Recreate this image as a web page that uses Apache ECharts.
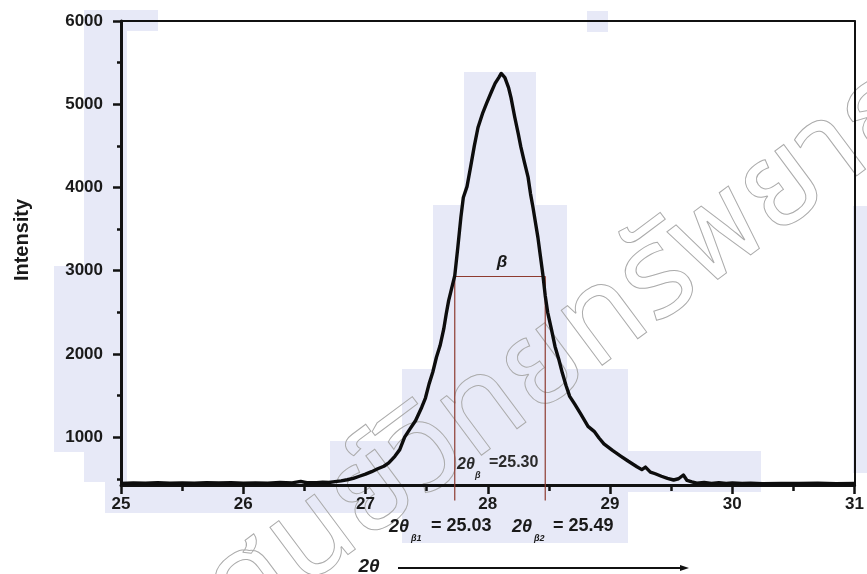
<!DOCTYPE html>
<html>
<head>
<meta charset="utf-8">
<title>XRD peak</title>
<script src="https://cdn.jsdelivr.net/npm/echarts@6.0.0/dist/echarts.min.js"></script>
<style>
  html, body { margin: 0; padding: 0; background: #fff; }
  #main { width: 867px; height: 574px; }
</style>
</head>
<body>
<div id="main"></div>
<script>
// 2θ (deg) / intensity
var twoTheta = [
  25.00, 25.10, 25.20, 25.30, 25.40, 25.50, 25.60, 25.70, 25.80, 25.90,
  26.00, 26.10, 26.20, 26.30, 26.40, 26.47, 26.52, 26.60, 26.65, 26.70,
  26.75, 26.80, 26.85, 26.90, 26.95, 27.00, 27.05, 27.10, 27.15, 27.19,
  27.24, 27.28, 27.32, 27.36, 27.41, 27.46, 27.49, 27.52, 27.55, 27.58,
  27.61, 27.64, 27.66, 27.68, 27.70, 27.73, 27.755, 27.78, 27.80, 27.83,
  27.86, 27.89, 27.92, 27.96, 27.99, 28.03, 28.06, 28.09, 28.11, 28.14,
  28.17, 28.19, 28.22, 28.25, 28.27, 28.30, 28.33, 28.35, 28.37, 28.39,
  28.41, 28.43, 28.45, 28.47, 28.49, 28.52, 28.55, 28.58, 28.61, 28.64,
  28.67, 28.71, 28.76, 28.82, 28.87, 28.91, 28.95, 29.02, 29.09, 29.15,
  29.22, 29.26, 29.29, 29.33, 29.37, 29.42, 29.47, 29.52, 29.56, 29.60,
  29.63, 29.67, 29.71, 29.77, 29.83, 29.89, 29.95, 30.00, 30.08, 30.15,
  30.25, 30.40, 30.55, 30.70, 30.85, 31.00
];
var intensity = [
  445, 449, 446, 452, 447, 450, 446, 454, 449, 452,
  448, 451, 447, 455, 450, 468, 452, 452, 458, 455,
  465, 475, 488, 505, 530, 555, 585, 620, 650, 690,
  770, 850, 1000, 1090, 1200, 1360, 1470, 1640, 1780, 1960,
  2100, 2300, 2480, 2640, 2760, 2940, 3280, 3640, 3880, 4010,
  4250, 4500, 4720, 4900, 5010, 5150, 5250, 5320, 5370, 5320,
  5200, 5080, 4850, 4640, 4490, 4300, 4120, 3920, 3760, 3580,
  3400, 3180, 2960, 2700, 2500, 2300, 2090, 1940, 1770, 1620,
  1490, 1400, 1280, 1130, 1070, 990, 920, 840, 770, 710,
  645, 610, 640, 580, 560, 530, 505, 485, 500, 545,
  480, 462, 446, 455, 444, 452, 443, 450, 444, 447,
  442, 445, 443, 446, 442, 444
];

// FWHM box (β) : left edge, right edge, half-height, bottom of the drop lines
var betaX = [27.73, 27.73, 28.47, 28.47];
var betaY = [240, 2930, 2930, 240];

// axis ticks
var yLabelValues = [1000, 2000, 3000, 4000, 5000, 6000];
var yMinorValues = [500, 1500, 2500, 3500, 4500, 5500];

var curveData = twoTheta.map(function (x, i) { return [x, intensity[i]]; });
var betaData = betaX.map(function (x, i) { return [x, betaY[i]]; });

var chart = echarts.init(document.getElementById("main"));
var boldFont = "Liberation Sans, Arial, sans-serif";
var hl = "#e7e9f7"; // scan highlight tint

function box(x, y, w, h) {
  return { type: "rect", z: -10, silent: true, shape: { x: x, y: y, width: w, height: h }, style: { fill: hl } };
}
function txt(x, y, s, size, opt) {
  opt = opt || {};
  return {
    type: "text", x: x, y: y, z: 50, rotation: opt.rot || 0, silent: true,
    style: {
      text: s, fill: opt.color || "#1a1a1a",
      font: (opt.italic ? "italic " : "") + "bold " + size + "px " + boldFont,
      align: opt.align || "left", verticalAlign: opt.va || "middle"
    }
  };
}

var option = {
  animation: false,
  backgroundColor: "#fff",
  grid: { left: 121, right: 11, top: 21, bottom: 89, containLabel: false },
  xAxis: [
    {
      type: "value", min: 25, max: 31, interval: 1, position: "bottom",
      axisLine: { show: true, lineStyle: { color: "#111", width: 3 } },
      axisTick: { show: true, length: 9, lineStyle: { color: "#111", width: 2.5 } },
      axisLabel: {
        margin: 11, color: "#1a1a1a", fontSize: 17, fontWeight: "bold", fontFamily: boldFont,
        formatter: function (v) { return String(v); }
      },
      splitLine: { show: false }
    },
    {
      type: "value", min: 25, max: 31, interval: 0.5, position: "bottom",
      axisLine: { show: false },
      axisTick: { show: true, length: 6, lineStyle: { color: "#111", width: 2.5 } },
      axisLabel: { show: false },
      splitLine: { show: false }
    },
    {
      type: "value", min: 25, max: 31, position: "top",
      axisLine: { show: true, lineStyle: { color: "#111", width: 2 } },
      axisTick: { show: false }, axisLabel: { show: false }, splitLine: { show: false }
    }
  ],
  yAxis: [
    {
      type: "value", min: 425, max: 6000, position: "left",
      axisLine: { show: true, lineStyle: { color: "#111", width: 3 } },
      axisTick: { show: true, length: 8, customValues: yLabelValues, lineStyle: { color: "#111", width: 2.5 } },
      axisLabel: {
        margin: 18, customValues: yLabelValues, color: "#1a1a1a",
        fontSize: 17, fontWeight: "bold", fontFamily: boldFont,
        formatter: function (v) { return String(v); }
      },
      splitLine: { show: false }
    },
    {
      type: "value", min: 425, max: 6000, position: "left",
      axisLine: { show: false },
      axisTick: { show: true, length: 4, customValues: yMinorValues, lineStyle: { color: "#111", width: 2.5 } },
      axisLabel: { show: false },
      splitLine: { show: false }
    },
    {
      type: "value", min: 425, max: 6000, position: "right",
      axisLine: { show: true, lineStyle: { color: "#111", width: 2 } },
      axisTick: { show: false }, axisLabel: { show: false }, splitLine: { show: false }
    }
  ],
  series: [
    {
      name: "FWHM",
      type: "line",
      data: betaData,
      clip: false,
      showSymbol: false,
      z: 3,
      lineStyle: { color: "#8e3b30", width: 1.2 }
    },
    {
      name: "Intensity",
      type: "line",
      data: curveData,
      showSymbol: false,
      z: 5,
      lineStyle: { color: "#0d0d0d", width: 3.4, join: "round" }
    }
  ],
  graphic: [
    // light blue scan-selection patches
    box(84, 10, 43, 472),
    box(127, 10, 31, 21),
    box(54, 266, 30, 186),
    box(105, 482, 225, 31),
    box(587, 11, 21, 21),
    box(464, 72, 72, 133),
    box(433, 205, 134, 164),
    box(402, 369, 226, 174),
    box(330, 441, 72, 72),
    box(628, 451, 133, 41),
    box(853, 206, 14, 267),
    // watermark
    {
      type: "text", x: 262, y: 665, rotation: 0.64, z: -5, silent: true,
      style: {
        text: "ศูนย์วิทยทรัพยากร", fill: "rgba(0,0,0,0)", stroke: "#ababab", lineWidth: 1,
        font: "125px Noto Sans Thai, Noto Sans, sans-serif", verticalAlign: "bottom"
      }
    },
    // axis titles
    txt(22, 240, "Intensity", 20, { rot: Math.PI / 2, align: "center" }),
    txt(369, 567, "2θ", 19, { italic: true, align: "center" }),
    { type: "line", z: 50, silent: true, shape: { x1: 398, y1: 568, x2: 684, y2: 568 }, style: { stroke: "#111", lineWidth: 2 } },
    { type: "polygon", z: 50, silent: true, shape: { points: [[680, 565], [689, 568], [680, 571]] }, style: { fill: "#111" } },
    // β annotation
    txt(502, 262, "β", 17, { italic: true, align: "center" }),
    txt(457, 465, "2θ", 16, { italic: true, color: "#2a2a2a" }),
    txt(475, 476, "β", 9, { italic: true, color: "#2a2a2a" }),
    txt(489, 463, "=25.30", 16, { color: "#2a2a2a" }),
    // bottom values
    txt(389, 527, "2θ", 18, { italic: true }),
    txt(411, 539, "β1", 9, { italic: true }),
    txt(431, 526, "= 25.03", 18),
    txt(512, 527, "2θ", 18, { italic: true }),
    txt(534, 539, "β2", 9, { italic: true }),
    txt(553, 526, "= 25.49", 18)
  ]
};

chart.setOption(option);
</script>
</body>
</html>
